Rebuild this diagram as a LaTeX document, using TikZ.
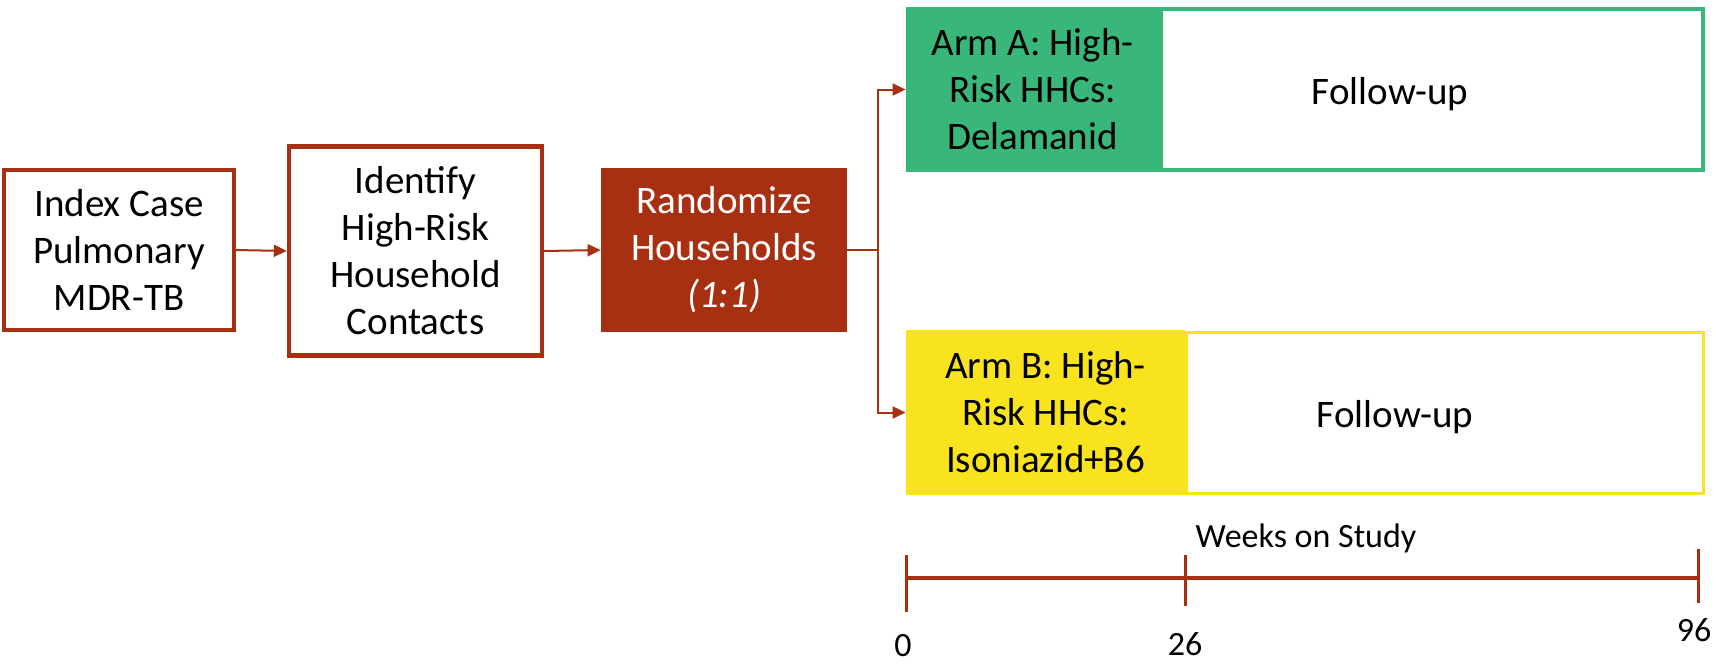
\documentclass[tikz,border=0pt]{standalone}
\usepackage{fontspec}
\setmainfont{Carlito}
\usetikzlibrary{arrows.meta}

\definecolor{rust}{RGB}{166,48,17}
\definecolor{armgreen}{RGB}{57,183,122}
\definecolor{armyellow}{RGB}{249,227,30}

\begin{document}
\begin{tikzpicture}[x=0.5pt,y=-0.5pt,
    boxfont/.style={font=\fontsize{19.5}{23.5}\selectfont},
    stepbox/.style={boxfont,draw=rust,line width=2.2pt,fill=white,align=center,inner sep=0pt},
    randbox/.style={boxfont,fill=rust,text=white,align=center,inner sep=0pt},
    armbox/.style={boxfont,align=center,inner sep=0pt,minimum height=82.5pt},
    fupbox/.style={line width=2pt,fill=white,minimum height=80.5pt,inner sep=0pt},
    fuplabel/.style={boxfont,xshift=-21pt,yshift=-2.5pt},
    flow/.style={draw=rust,line width=1pt,-{Triangle[length=6.5pt,width=6pt]}},
    timeline/.style={draw=rust,line width=2pt},
    tick/.style={draw=rust,line width=1.5pt},
    weeks/.style={font=\fontsize{17}{20}\selectfont}]

      \useasboundingbox (0,0) rectangle (1716,665);

      \node[stepbox,minimum width=115pt,minimum height=80pt] (index) at (119,250) {Index Case\\Pulmonary\\MDR-TB};
      \node[stepbox,minimum width=126.5pt,minimum height=104.5pt] (identify) at (415.5,251) {Identify\\High-Risk\\Household\\Contacts};
      \node[randbox,minimum width=123pt,minimum height=82pt] (random) at (724,250) {Randomize\\Households\\\textit{(1:1)}};

      \node[armbox,fill=armgreen,minimum width=126.5pt] (armA) at (1032.5,89.5) {Arm A: High-\\Risk HHCs:\\Delamanid};
      \node[fupbox,draw=armgreen,minimum width=271pt,label={[fuplabel]center:Follow-up}] (fupA) at (1432,89.5) {};

      \node[armbox,fill=armyellow,minimum width=139.5pt] (armB) at (1045.5,412.5) {Arm B: High-\\Risk HHCs:\\Isoniazid+B6};
      \node[fupbox,draw=armyellow,line width=1.5pt,minimum width=258.5pt,label={[fuplabel,xshift=-4pt]center:Follow-up}] (fupB) at (1445,412.5) {};

      \coordinate (fork) at (878,250);
      \draw[flow] (index.east) -- (identify.west);
      \draw[flow] (identify.east) -- (random.west);
      \draw[flow] (random.east) -- (fork) |- (armA.west);
      \draw[flow] (fork) |- (armB.west);

      % timeline
      \coordinate (w0) at (906,578);
      \coordinate (w26) at (1185,578);
      \coordinate (w96) at (1698,578);
      \draw[timeline] (w0) -- (w96);
      \foreach \w/\a/\b in {w0/11.5/17,w26/11.5/14,w96/14.5/12.5}
        \draw[tick] ([yshift=\a pt]\w) -- ([yshift=-\b pt]\w);

      \node[weeks] (wlabel) at (1306,538) {Weeks on Study};
      \node[weeks] (n0) at (903,646) {0};
      \node[weeks] (n26) at (1185,644) {26};
      \node[weeks] (n96) at (1694,630) {96};

\end{tikzpicture}
\end{document}
